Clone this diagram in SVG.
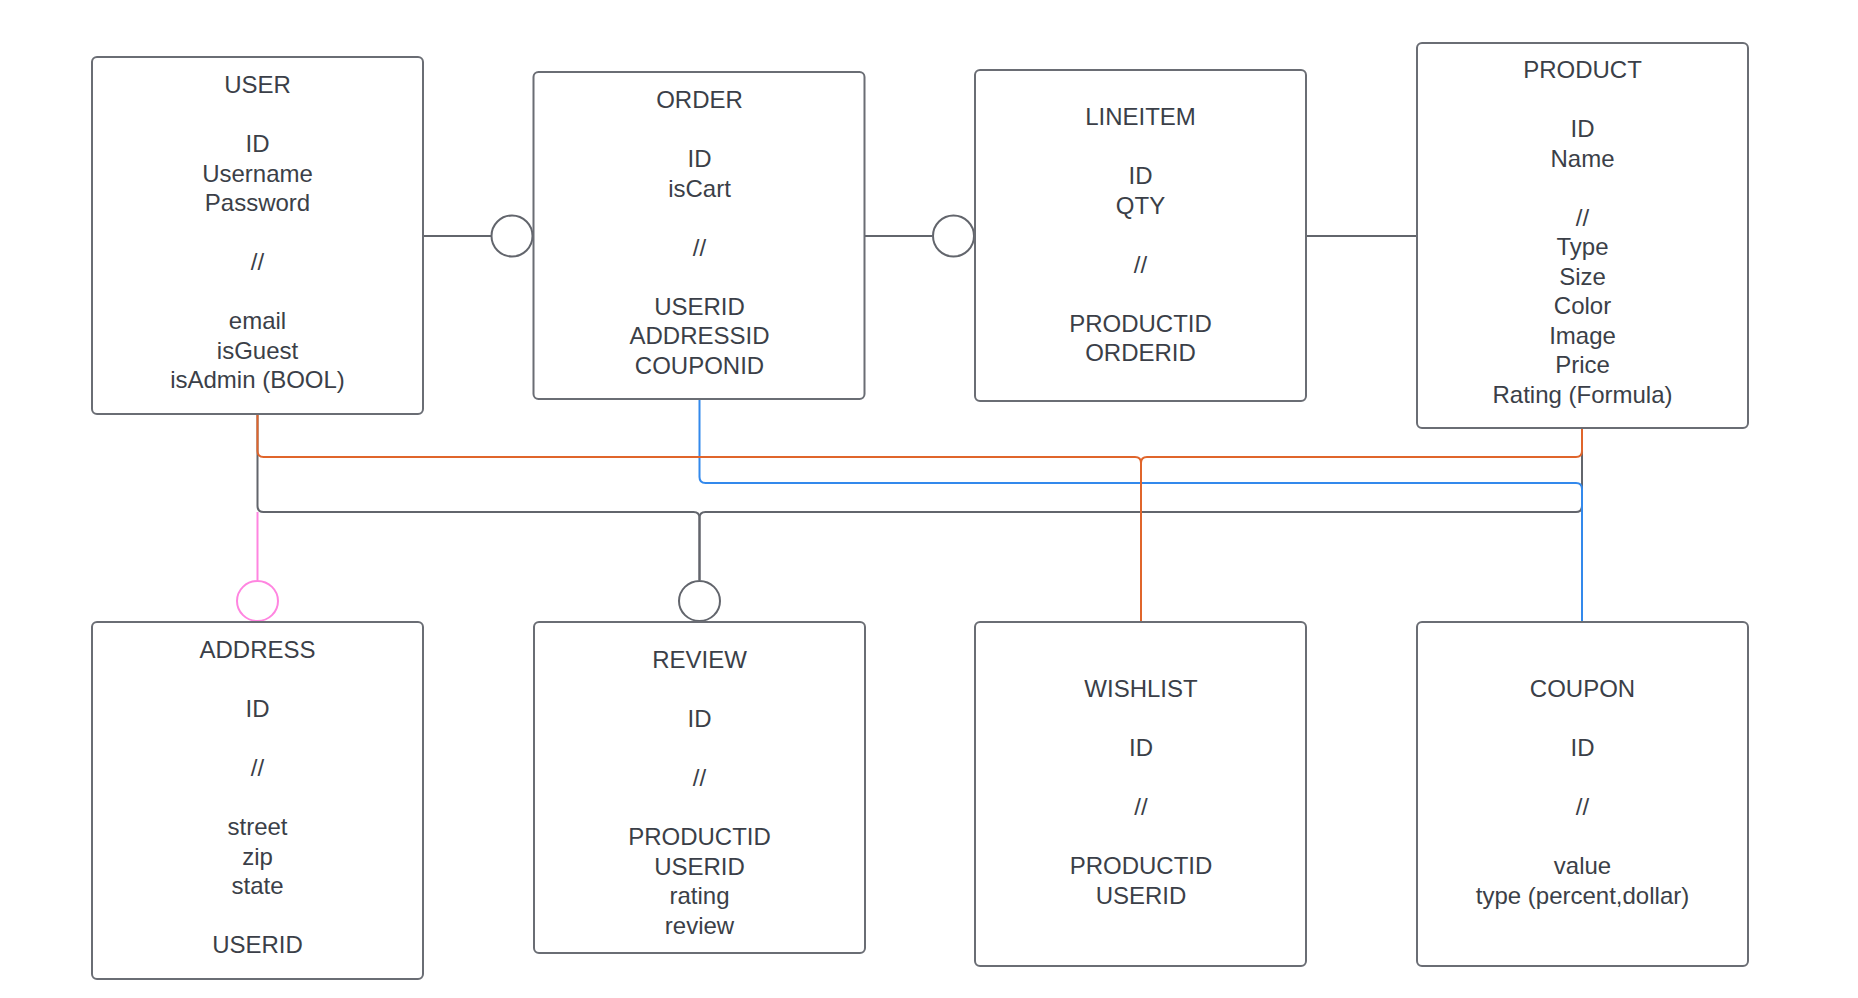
<svg xmlns="http://www.w3.org/2000/svg" width="1858" height="998" viewBox="0 0 1858 998">
<style>
.box{fill:#ffffff;stroke:#6a6d74;stroke-width:2}
.t{font-family:"Liberation Sans",Arial,sans-serif;font-size:24px;fill:#3b3f48;text-anchor:middle}
.c{fill:none;stroke-width:2;stroke-linejoin:round}
.gray{stroke:#62656c}
.orange{stroke:#e0652b}
.blue{stroke:#3389ec}
.pink{stroke:#ff85e0}
.circ{fill:#ffffff;stroke-width:2}
</style>
<rect width="1858" height="998" fill="#ffffff"/>
<g id="connectors">
  <path class="c gray" d="M423 236 H491"/>
  <path class="c gray" d="M864 236 H932"/>
  <path class="c gray" d="M1306 236 H1417"/>
  <path class="c gray" d="M699.5 580 V518 Q699.5 512 693.5 512 H263.5 Q257.5 512 257.5 506 V414"/>
  <path class="c gray" d="M699.5 580 V518 Q699.5 512 705.5 512 H1576 Q1582 512 1582 506 V428"/>
  <path class="c pink" d="M257.5 512 V580"/>
  <path class="c blue" d="M699.5 399 V477 Q699.5 483 705.5 483 H1576 Q1582 483 1582 489 V622"/>
  <path class="c orange" d="M1141 622 V463 Q1141 457 1135 457 H263.5 Q257.5 457 257.5 451 V414"/>
  <path class="c orange" d="M1141 622 V463 Q1141 457 1147 457 H1576 Q1582 457 1582 451 V428"/>
  <circle class="circ gray" cx="512" cy="236" r="20.5"/>
  <circle class="circ gray" cx="953.5" cy="236" r="20.5"/>
  <ellipse class="circ pink" cx="257.5" cy="601" rx="20.5" ry="20"/>
  <ellipse class="circ gray" cx="699.5" cy="601" rx="20.5" ry="20"/>
</g>
<g id="user">
  <rect class="box" x="92" y="57" width="331" height="357" rx="5"/>
  <text class="t"><tspan x="257.5" y="93">USER</tspan><tspan x="257.5" y="152">ID</tspan><tspan x="257.5" y="181.5">Username</tspan><tspan x="257.5" y="211">Password</tspan><tspan x="257.5" y="270">//</tspan><tspan x="257.5" y="329">email</tspan><tspan x="257.5" y="358.5">isGuest</tspan><tspan x="257.5" y="388">isAdmin (BOOL)</tspan></text>
</g>
<g id="order">
  <rect class="box" x="533.5" y="72" width="331" height="327" rx="5"/>
  <text class="t"><tspan x="699.5" y="108">ORDER</tspan><tspan x="699.5" y="167">ID</tspan><tspan x="699.5" y="196.5">isCart</tspan><tspan x="699.5" y="255.5">//</tspan><tspan x="699.5" y="314.5">USERID</tspan><tspan x="699.5" y="344">ADDRESSID</tspan><tspan x="699.5" y="373.5">COUPONID</tspan></text>
</g>
<g id="lineitem">
  <rect class="box" x="975" y="70" width="331" height="331" rx="5"/>
  <text class="t"><tspan x="1140.5" y="125">LINEITEM</tspan><tspan x="1140.5" y="184">ID</tspan><tspan x="1140.5" y="213.5">QTY</tspan><tspan x="1140.5" y="272.5">//</tspan><tspan x="1140.5" y="331.5">PRODUCTID</tspan><tspan x="1140.5" y="361">ORDERID</tspan></text>
</g>
<g id="product">
  <rect class="box" x="1417" y="43" width="331" height="385" rx="5"/>
  <text class="t"><tspan x="1582.5" y="78">PRODUCT</tspan><tspan x="1582.5" y="137">ID</tspan><tspan x="1582.5" y="166.5">Name</tspan><tspan x="1582.5" y="225.5">//</tspan><tspan x="1582.5" y="255">Type</tspan><tspan x="1582.5" y="284.5">Size</tspan><tspan x="1582.5" y="314">Color</tspan><tspan x="1582.5" y="343.5">Image</tspan><tspan x="1582.5" y="373">Price</tspan><tspan x="1582.5" y="402.5">Rating (Formula)</tspan></text>
</g>
<g id="address">
  <rect class="box" x="92" y="622" width="331" height="357" rx="5"/>
  <text class="t"><tspan x="257.5" y="658">ADDRESS</tspan><tspan x="257.5" y="717">ID</tspan><tspan x="257.5" y="776">//</tspan><tspan x="257.5" y="835">street</tspan><tspan x="257.5" y="864.5">zip</tspan><tspan x="257.5" y="894">state</tspan><tspan x="257.5" y="953">USERID</tspan></text>
</g>
<g id="review">
  <rect class="box" x="534" y="622" width="331" height="331" rx="5"/>
  <text class="t"><tspan x="699.5" y="668">REVIEW</tspan><tspan x="699.5" y="727">ID</tspan><tspan x="699.5" y="786">//</tspan><tspan x="699.5" y="845">PRODUCTID</tspan><tspan x="699.5" y="874.5">USERID</tspan><tspan x="699.5" y="904">rating</tspan><tspan x="699.5" y="933.5">review</tspan></text>
</g>
<g id="wishlist">
  <rect class="box" x="975" y="622" width="331" height="344" rx="5"/>
  <text class="t"><tspan x="1141" y="697">WISHLIST</tspan><tspan x="1141" y="756">ID</tspan><tspan x="1141" y="815">//</tspan><tspan x="1141" y="874">PRODUCTID</tspan><tspan x="1141" y="903.5">USERID</tspan></text>
</g>
<g id="coupon">
  <rect class="box" x="1417" y="622" width="331" height="344" rx="5"/>
  <text class="t"><tspan x="1582.5" y="697">COUPON</tspan><tspan x="1582.5" y="756">ID</tspan><tspan x="1582.5" y="815">//</tspan><tspan x="1582.5" y="874">value</tspan><tspan x="1582.5" y="903.5">type (percent,dollar)</tspan></text>
</g>
</svg>
